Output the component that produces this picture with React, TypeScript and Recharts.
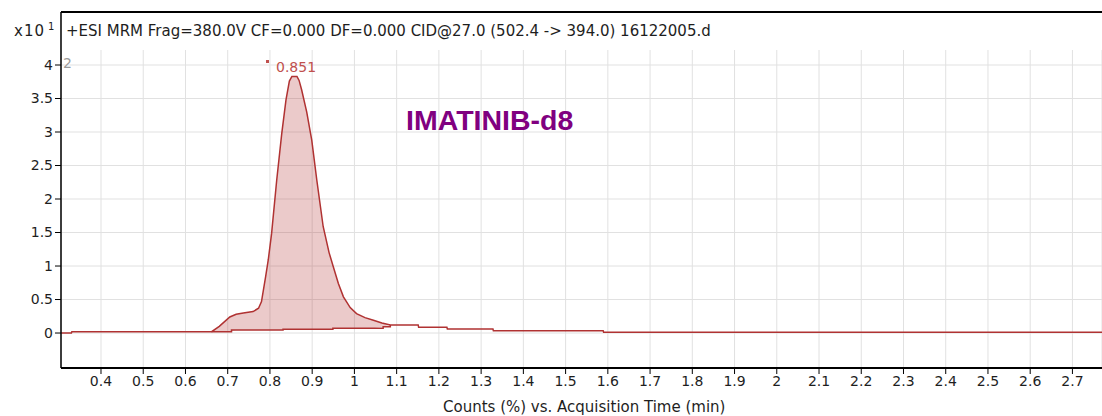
import React from 'react'
import { ComposedChart, Area, Line, XAxis, YAxis, CartesianGrid, ReferenceArea, ReferenceLine } from 'recharts'

// acquisition time (min) and counts (x10^1)
const times = [
  0.305, 0.33, 0.331, 0.662, 0.68, 0.705, 0.72, 0.737, 0.76, 0.773, 0.78, 0.79, 0.796, 0.804, 0.816,
  0.828, 0.838, 0.846, 0.852, 0.864, 0.869, 0.875, 0.887, 0.899, 0.911, 0.926, 0.94, 0.95, 0.962,
  0.974, 0.99, 1.005, 1.025, 1.045, 1.065, 1.085, 1.151, 1.152, 1.219, 1.22, 1.328, 1.329, 1.589,
  1.59, 2.77,
]
const counts = [
  0, 0, 0.02, 0.02, 0.1, 0.24, 0.28, 0.3, 0.32, 0.37, 0.47, 0.85, 1.09, 1.49, 2.28,
  2.98, 3.48, 3.76, 3.83, 3.83, 3.77, 3.63, 3.3, 2.88, 2.28, 1.59, 1.2, 0.99, 0.74,
  0.54, 0.38, 0.29, 0.23, 0.19, 0.15, 0.12, 0.12, 0.085, 0.085, 0.06, 0.06, 0.034, 0.034,
  0.01, 0.01,
]
// integration baseline under the peak (null = not integrated)
const peakBase = [
  null, null, null, 0.02, 0.02, 0.02, 0.045, 0.045, 0.045, 0.045, 0.045, 0.045, 0.045, 0.045, 0.045,
  0.045, 0.055, 0.055, 0.055, 0.055, 0.055, 0.055, 0.055, 0.055, 0.055, 0.055, 0.055, 0.07, 0.07,
  0.07, 0.07, 0.07, 0.07, 0.07, 0.095, 0.12, null, null, null, null, null, null, null,
  null, null,
]

const baseTimes = [0.662, 0.709, 0.831, 0.949, 1.068, 1.085]
const baseLevels = [0.02, 0.045, 0.055, 0.07, 0.095, 0.12]

const xTicks = [0.4, 0.5, 0.6, 0.7, 0.8, 0.9, 1, 1.1, 1.2, 1.3, 1.4, 1.5, 1.6, 1.7, 1.8, 1.9, 2, 2.1, 2.2, 2.3, 2.4, 2.5, 2.6, 2.7]
const yTicks = [0, 0.5, 1, 1.5, 2, 2.5, 3, 3.5, 4]

const title = '+ESI MRM Frag=380.0V CF=0.000 DF=0.000 CID@27.0 (502.4 -> 394.0) 16122005.d'
const compound = 'IMATINIB-d8'
const peakLabel = '0.851'
const xLabel = 'Counts (%) vs. Acquisition Time (min)'

const traceColor = '#b03232'
const tickFont = { fill: '#1e1e1e', fontSize: 14, fontFamily: 'DejaVu Sans' }

export default function App() {
  const data = times.map((t, i) => ({
    t,
    v: counts[i],
    band: peakBase[i] == null ? null : [peakBase[i], counts[i]],
  }))
  const baseRows = baseTimes.map((t, i) => ({ t, b: baseLevels[i] }))

  return (
    <div style={{ position: 'absolute', left: 0, top: 0, width: 1102, height: 416, background: '#fff' }}>
      <ComposedChart width={1102} height={416} data={data} margin={{ top: 12, right: 0, left: 0, bottom: 0 }}>
        <CartesianGrid stroke="#e1e1e1" />
        <ReferenceArea y1={4.224} y2={4.791} fill="#fff" fillOpacity={1} stroke="none" />
        <ReferenceLine y={4.791} stroke="#000" strokeWidth={2} />
        <XAxis
          dataKey="t"
          type="number"
          domain={[0.3053, 2.77]}
          allowDataOverflow
          ticks={xTicks}
          height={48}
          tickSize={6}
          axisLine={{ stroke: '#000', strokeWidth: 2 }}
          tickLine={{ stroke: '#000' }}
          tick={tickFont}
        />
        <YAxis
          type="number"
          domain={[-0.522, 4.791]}
          allowDataOverflow
          ticks={yTicks}
          width={61}
          tickSize={6}
          axisLine={{ stroke: '#000', strokeWidth: 1.5 }}
          tickLine={{ stroke: '#000' }}
          tick={tickFont}
        />
        <Area
          dataKey="band"
          type="linear"
          fill={traceColor}
          fillOpacity={0.26}
          stroke="none"
          isAnimationActive={false}
        />
        <Line
          data={baseRows}
          dataKey="b"
          type="stepAfter"
          stroke={traceColor}
          strokeWidth={1.5}
          dot={false}
          isAnimationActive={false}
        />
        <Line
          dataKey="v"
          type="linear"
          stroke={traceColor}
          strokeWidth={1.5}
          dot={false}
          isAnimationActive={false}
        />
      </ComposedChart>
      <svg width={1102} height={416} style={{ position: 'absolute', left: 0, top: 0, pointerEvents: 'none' }}>
        <text x={45} y={36} textAnchor="end" fontFamily="DejaVu Sans" fontSize={15} letterSpacing={1} fill="#1e1e1e">x10</text>
        <text x={48} y={30} fontFamily="DejaVu Sans" fontSize={10} fill="#1e1e1e">1</text>
        <text x={66} y={36} fontFamily="DejaVu Sans" fontSize={15} fill="#1e1e1e">{title}</text>
        <text x={63} y={68} fontFamily="DejaVu Sans" fontSize={14} fill="#9a9a9a">2</text>
        <rect x={266} y={60} width={3} height={3} fill="#c0504d" />
        <text x={276} y={72} fontFamily="DejaVu Sans" fontSize={14} fill="#c0504d">{peakLabel}</text>
        <text x={406} y={130} fontFamily="Liberation Sans" fontWeight="bold" fontSize={28.5} fill="#800080">{compound}</text>
        <text x={443} y={412} fontFamily="DejaVu Sans" fontSize={15} fill="#1e1e1e">{xLabel}</text>
      </svg>
    </div>
  )
}
